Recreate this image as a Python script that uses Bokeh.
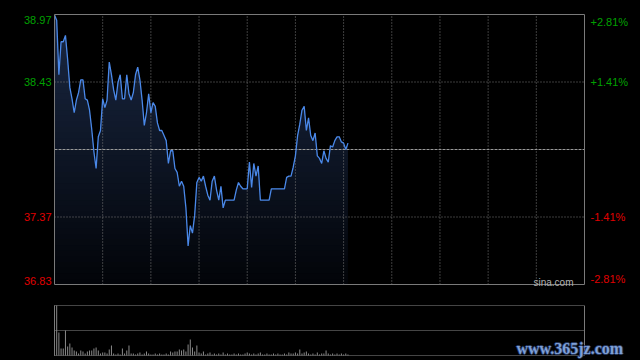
import numpy as np
from bokeh.plotting import figure
from bokeh.models import Range1d
from bokeh.core.properties import value
from bokeh.embed import file_html
from bokeh.resources import INLINE

try:
    from bokeh.models import GlobalInlineStyleSheet
except ImportError:
    GlobalInlineStyleSheet = None

# ---------------- data ----------------
pre_close = 37.90
max_pct = 2.81
total_minutes = 242
grid_every = 22
price_labels = ["38.97", "38.43", "37.37", "36.83"]
pct_labels = ["+2.81%", "+1.41%", "-1.41%", "-2.81%"]

price = [
    38.96, 38.92, 38.49, 38.75, 38.75, 38.80, 38.61, 38.39, 38.30, 38.19,
    38.29, 38.35, 38.45, 38.45, 38.30, 38.29, 38.21, 38.06, 37.88, 37.75,
    38.00, 38.05, 38.30, 38.23, 38.29, 38.59, 38.49, 38.37, 38.29, 38.43,
    38.49, 38.30, 38.30, 38.49, 38.34, 38.29, 38.35, 38.49, 38.55, 38.45,
    38.29, 38.09, 38.19, 38.34, 38.19, 38.27, 38.24, 38.11, 38.05, 38.05,
    38.01, 37.97, 37.79, 37.89, 37.89, 37.75, 37.72, 37.61, 37.65, 37.61,
    37.44, 37.14, 37.30, 37.24, 37.38, 37.64, 37.68, 37.65, 37.69, 37.61,
    37.54, 37.50, 37.65, 37.69, 37.58, 37.50, 37.61, 37.44, 37.50, 37.50,
    37.50, 37.50, 37.50, 37.58, 37.64, 37.61, 37.59, 37.59, 37.59, 37.80,
    37.60, 37.79, 37.69, 37.77, 37.50, 37.50, 37.50, 37.50, 37.50, 37.59,
    37.59, 37.59, 37.59, 37.59, 37.59, 37.59, 37.68, 37.69, 37.69, 37.76,
    37.85, 38.01, 38.10, 38.21, 38.24, 38.05, 38.15, 38.01, 37.97, 38.03,
    37.85, 37.83, 37.79, 37.89, 37.83, 37.80, 37.93, 37.92, 37.97, 38.00,
    38.00, 37.96, 37.95, 37.90, 37.95,
]

volume = [
    20, 50, 23, 7, 7, 25, 9, 12, 8, 5,
    4, 2, 5, 4, 2, 4, 5, 5, 7, 8,
    5, 2, 3, 3, 2, 6, 10, 2, 1, 2,
    1, 7, 2, 5, 10, 2, 2, 1, 2, 3,
    1, 2, 4, 2, 1, 1, 2, 1, 2, 1,
    1, 2, 1, 4, 3, 4, 4, 6, 5, 6,
    4, 11, 16, 8, 4, 10, 3, 2, 4, 1,
    2, 3, 1, 2, 1, 2, 1, 3, 1, 2,
    1, 1, 2, 1, 2, 1, 1, 2, 3, 2,
    1, 2, 1, 2, 3, 1, 1, 2, 1, 1,
    2, 1, 2, 1, 1, 2, 1, 3, 2, 2,
    3, 2, 6, 2, 3, 4, 2, 1, 2, 1,
    3, 1, 2, 2, 5, 2, 1, 2, 1, 2,
    1, 2, 1, 2, 1,
]
minutes = list(range(len(price)))

# ---------------- layout (pixels inside the figure) ----------------
W, H = 640, 360
PX0, PX1 = 54, 584      # plot area left / right
PY0, PY1 = 14, 284      # plot area top / bottom
VY0, VY1 = 305, 355     # volume area top / bottom

top = pre_close * (1 + max_pct / 100)
bot = pre_close * (1 - max_pct / 100)
levels = [top, (top + pre_close) / 2, (pre_close + bot) / 2, bot]

x_per_px = total_minutes / (PX1 - PX0)
def xpx(px):
    return (px - PX0) * x_per_px

p_per_px = (top - bot) / (PY1 - PY0)
def ypx(py):
    return top - (py - PY0) * p_per_px

vmax = max(volume)
def vpx(py):
    return vmax * (VY1 - py) / (VY1 - VY0)

p = figure(width=W, height=H, output_backend="svg", toolbar_location=None,
           x_range=Range1d(xpx(0), xpx(W)), y_range=Range1d(ypx(H), ypx(0)),
           x_axis_location=None, y_axis_location=None,
           background_fill_color="#000000", border_fill_color="#000000",
           min_border=0, outline_line_color=None)
p.extra_y_ranges = {"vol": Range1d(vpx(H), vpx(0))}
p.xgrid.visible = False
p.ygrid.visible = False

if GlobalInlineStyleSheet is not None:
    p.stylesheets = [GlobalInlineStyleSheet(css="html, body { background-color: #000000; overflow: hidden; }")]

FONT = value("Liberation Sans")

# ---------------- gradient area under the price line ----------------
pr = np.array(price)
N = 48
c_top = np.array([26, 40, 68])
c_bot = np.array([2, 4, 8])
for i in range(N - 1, -1, -1):
    b = bot + (top - bot) * (i + 1) / N
    t = (i + 0.5) / N
    c = c_bot + (c_top - c_bot) * t
    col = "#%02x%02x%02x" % tuple(int(round(v)) for v in c)
    p.varea(x=minutes, y1=[bot] * len(minutes), y2=np.minimum(pr, b),
            fill_color=col, fill_alpha=1.0)

# ---------------- grid ----------------
grid_x = list(range(grid_every, total_minutes, grid_every))
GRID = "#7a7a7a"
p.segment(x0=grid_x, y0=[bot] * len(grid_x), x1=grid_x, y1=[top] * len(grid_x),
          line_color=GRID, line_width=1, line_dash="1 2")
p.segment(x0=[0, 0], y0=[levels[1], levels[2]], x1=[total_minutes] * 2,
          y1=[levels[1], levels[2]], line_color=GRID, line_width=1, line_dash="1 2")
# previous close
p.segment(x0=[0], y0=[pre_close], x1=[total_minutes], y1=[pre_close],
          line_color="#9a9a9a", line_width=1, line_dash="3 1")

# ---------------- price line ----------------
p.line(minutes, price, line_color="#4a88e8", line_width=1.3)

# ---------------- frame border ----------------
p.quad(left=[0], right=[total_minutes], top=[top], bottom=[bot],
       fill_alpha=0, line_color="#7a7a7a", line_width=1)

# ---------------- volume panel ----------------
p.vbar(x=minutes, top=volume, bottom=0, width=0.45, fill_color="#8c8c8c",
       line_color=None, y_range_name="vol")
p.segment(x0=[0, 0, 0], y0=[vmax, vmax / 2, 0], x1=[total_minutes] * 3,
          y1=[vmax, vmax / 2, 0], line_color="#8a8a8a", line_width=1,
          line_dash="1 1", y_range_name="vol")
p.segment(x0=[0, total_minutes], y0=[0, 0], x1=[0, total_minutes], y1=[vmax, vmax],
          line_color="#7a7a7a", line_width=1, y_range_name="vol")

# ---------------- axis labels ----------------
colors = ["#00a000", "#00a000", "#e00000", "#e00000"]
baselines = ["top", "middle", "middle", "bottom"]
offs = [1, 0, 0, 0]
for lbl, pct, lev, col, bl, off in zip(price_labels, pct_labels, levels, colors, baselines, offs):
    p.text(x=[xpx(51)], y=[lev], text=[lbl], text_align="right", text_baseline=bl,
           y_offset=off, text_color=col, text_font=FONT, text_font_size="11px")
    p.text(x=[xpx(590)], y=[lev], text=[pct], text_align="left", text_baseline=bl,
           y_offset=off, text_color=col, text_font=FONT, text_font_size="11px")

p.text(x=[xpx(573)], y=[ypx(282)], text=["sina.com"], text_align="right",
       text_baseline="alphabetic", text_color="#b0b0b0", text_font=FONT,
       text_font_size="10px")

# ---------------- watermark ----------------
wm_x, wm_y = xpx(516), ypx(348)
WM_FONT = value("Liberation Serif")
for dx, dy in [(-1, 0), (1, 0), (0, -1), (0, 1)]:
    p.text(x=[wm_x], y=[wm_y], text=["www.365jz.com"], x_offset=dx, y_offset=dy,
           text_align="left", text_baseline="alphabetic", text_color="#24365c",
           text_font=WM_FONT, text_font_style="bold", text_font_size="16px")
p.text(x=[wm_x], y=[wm_y], text=["www.365jz.com"], text_align="left",
       text_baseline="alphabetic", text_color="#7f9fd6",
       text_font=WM_FONT, text_font_style="bold", text_font_size="16px")

open("out.html", "w").write(file_html(p, INLINE))
